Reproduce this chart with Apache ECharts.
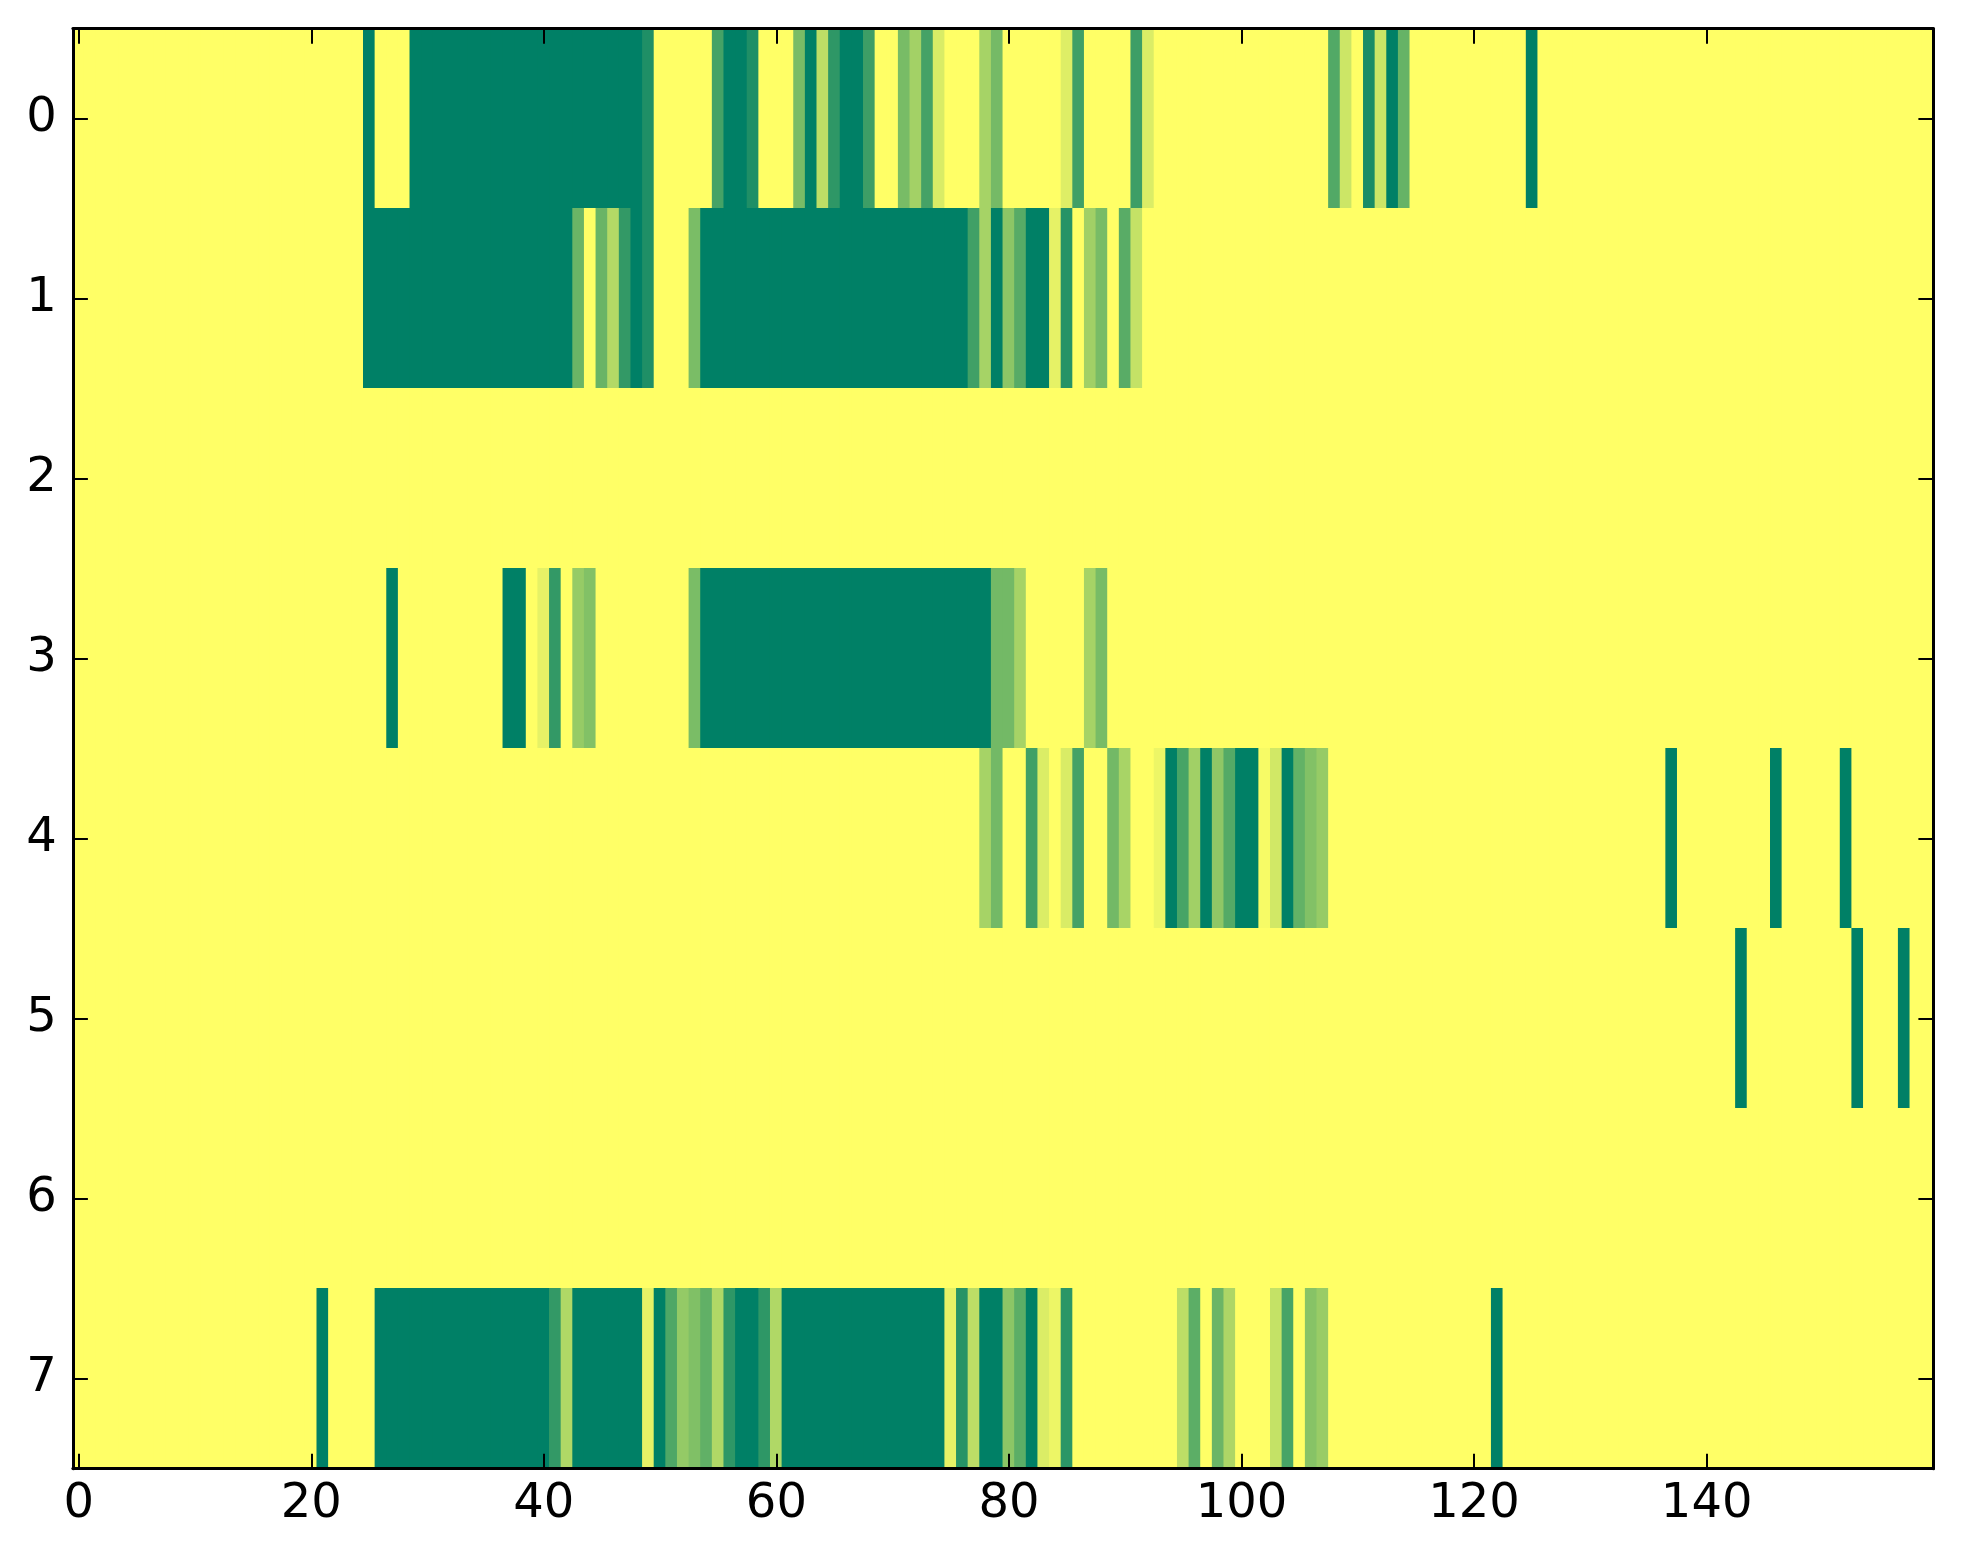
<!DOCTYPE html>
<html>
<head>
<meta charset="utf-8">
<script src="https://cdn.jsdelivr.net/npm/echarts@6/dist/echarts.min.js"></script>
<style>
html,body{margin:0;padding:0;background:#fff;}
#chart{width:1963px;height:1564px;}
</style>
</head>
<body>
<div id="chart"></div>
<script>
// ---- data (cell runs per row: [firstColumn, lastColumn, value]; all other cells are 0) ----
var columnCount = 160;
var rowLabels = ['0','1','2','3','4','5','6','7'];
var xTickLabels = ['0','20','40','60','80','100','120','140'];

var row0Runs = [[25,25,1],[29,48,1],[49,49,0.88],[55,55,0.73],[56,57,1],[58,58,0.88],[62,62,0.53],[63,63,1],[64,64,0.26],[65,65,0.82],[66,67,1],[68,68,0.76],[71,71,0.53],[72,72,0.36],[73,73,0.73],[74,74,0.15],[78,78,0.35],[79,79,0.54],[85,85,0.13],[86,86,0.75],[91,91,0.76],[92,92,0.14],[108,108,0.68],[109,109,0.2],[111,111,0.9],[112,112,0.2],[113,113,1],[114,114,0.6],[125,125,1]];
var row1Runs = [[25,42,1],[43,43,0.58],[45,45,0.59],[46,46,0.3],[47,47,0.8],[48,48,1],[49,49,0.88],[53,53,0.52],[54,76,1],[77,77,0.75],[78,78,0.35],[79,79,1],[80,80,0.45],[81,81,0.66],[82,83,1],[84,84,0.1],[85,85,0.85],[87,87,0.37],[88,88,0.53],[90,90,0.65],[91,91,0.23]];
var row2Runs = [];
var row3Runs = [[27,27,1],[37,38,1],[40,40,0.1],[41,41,0.8],[43,43,0.41],[44,44,0.49],[53,53,0.52],[54,78,1],[79,80,0.55],[81,81,0.35],[87,87,0.35],[88,88,0.53]];
var row4Runs = [[78,78,0.35],[79,79,0.55],[82,82,0.75],[83,83,0.14],[85,85,0.15],[86,86,0.73],[89,89,0.55],[90,90,0.34],[93,93,0.07],[94,94,1],[95,95,0.72],[96,96,0.37],[97,97,1],[98,98,0.44],[99,99,0.67],[100,101,1],[102,102,0.03],[103,103,0.18],[104,104,1],[105,105,0.61],[106,106,0.49],[107,107,0.41],[137,137,1],[146,146,1],[152,152,1]];
var row5Runs = [[143,143,1],[153,153,1],[157,157,1]];
var row6Runs = [];
var row7Runs = [[21,21,1],[26,40,1],[41,41,0.8],[42,42,0.31],[43,48,1],[49,49,0.1],[50,50,1],[51,51,0.69],[52,52,0.42],[53,53,0.5],[54,54,0.62],[55,55,0.31],[56,56,0.82],[57,58,1],[59,59,0.82],[60,60,0.31],[61,74,1],[75,75,0.1],[76,76,0.85],[77,77,0.26],[78,79,1],[80,80,0.45],[81,81,0.64],[82,82,1],[83,83,0.14],[84,84,0.07],[85,85,0.83],[95,95,0.26],[96,96,0.64],[98,98,0.58],[99,99,0.32],[103,103,0.23],[104,104,0.72],[106,106,0.47],[107,107,0.4],[122,122,1]];

var allRows = [row0Runs,row1Runs,row2Runs,row3Runs,row4Runs,row5Runs,row6Runs,row7Runs];

// ---- build grid cells ----
var xCategories = [];
for (var i = 0; i < columnCount; i++) xCategories.push(String(i));
var cells = [];
allRows.forEach(function (runs, r) {
  var rowVals = new Array(columnCount).fill(0);
  runs.forEach(function (run) {
    for (var c = run[0]; c <= run[1]; c++) rowVals[c] = run[2];
  });
  rowVals.forEach(function (v, c) { cells.push([c, r, v]); });
});

var isLabelled = function (idx) { return xTickLabels.indexOf(String(idx)) >= 0; };

var font = { fontFamily: 'DejaVu Sans', fontSize: 48, color: '#000' };
var lineBlack = { color: '#000', width: 3 };
var tickStyle = { color: '#000', width: 2 };

var chart = echarts.init(document.getElementById('chart'), null, { renderer: 'canvas' });
chart.setOption({
  backgroundColor: '#ffffff',
  animation: false,
  grid: { left: 72.9, top: 28.7, width: 1860.5, height: 1440, containLabel: false, outerBoundsMode: 'none' },
  visualMap: {
    show: false, type: 'continuous', min: 0, max: 1, dimension: 2, seriesIndex: 0,
    inRange: { color: ['#ffff66', '#008066'] }
  },
  xAxis: [
    {
      type: 'category', data: xCategories, position: 'bottom', boundaryGap: true, z: 10,
      axisLine: { show: true, onZero: false, lineStyle: lineBlack },
      axisTick: { show: true, inside: true, alignWithLabel: true, length: 15, interval: function (i) { return isLabelled(i); }, lineStyle: tickStyle },
      axisLabel: Object.assign({ show: true, margin: 12, interval: function (i) { return isLabelled(i); } }, font),
      splitLine: { show: false }
    },
    {
      type: 'category', data: xCategories, position: 'top', boundaryGap: true, z: 10,
      axisLine: { show: true, onZero: false, lineStyle: lineBlack },
      axisTick: { show: true, inside: true, alignWithLabel: true, length: 15, interval: function (i) { return isLabelled(i); }, lineStyle: tickStyle },
      axisLabel: { show: false },
      splitLine: { show: false }
    }
  ],
  yAxis: [
    {
      type: 'category', data: rowLabels, inverse: true, position: 'left', boundaryGap: true, z: 10,
      axisLine: { show: true, onZero: false, lineStyle: lineBlack },
      axisTick: { show: true, inside: true, alignWithLabel: true, length: 15, lineStyle: tickStyle },
      axisLabel: Object.assign({ show: true, margin: 16 }, font),
      splitLine: { show: false }
    },
    {
      type: 'category', data: rowLabels, inverse: true, position: 'right', boundaryGap: true, z: 10,
      axisLine: { show: true, onZero: false, lineStyle: lineBlack },
      axisTick: { show: true, inside: true, alignWithLabel: true, length: 15, lineStyle: tickStyle },
      axisLabel: { show: false },
      splitLine: { show: false }
    }
  ],
  series: [{
    type: 'custom',
    coordinateSystem: 'cartesian2d',
    xAxisIndex: 0, yAxisIndex: 0,
    data: cells,
    encode: { x: 0, y: 1 },
    clip: true,
    z: 2,
    renderItem: function (params, api) {
      var center = api.coord([api.value(0), api.value(1)]);
      var size = api.size([1, 1]);
      var pad = 0.6;
      return {
        type: 'rect',
        shape: {
          x: center[0] - size[0] / 2 - pad,
          y: center[1] - size[1] / 2 - pad,
          width: size[0] + 2 * pad,
          height: size[1] + 2 * pad
        },
        style: { fill: api.visual('color') }
      };
    }
  }]
});
</script>
</body>
</html>
